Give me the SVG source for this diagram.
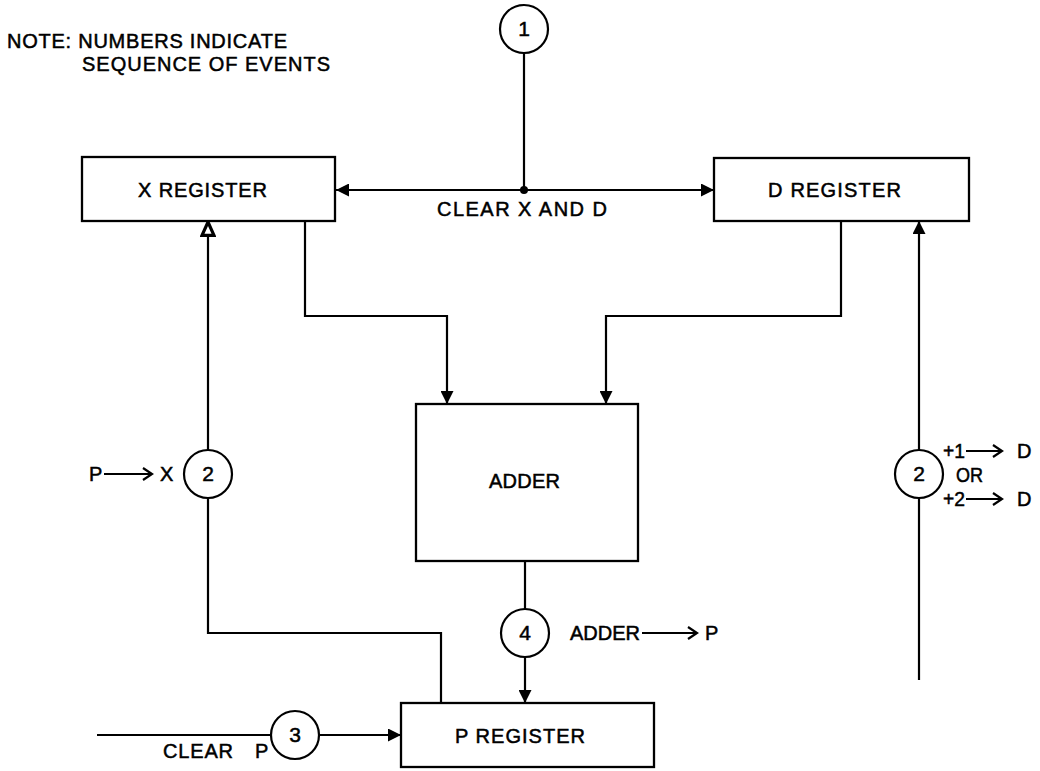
<svg xmlns="http://www.w3.org/2000/svg" width="1040" height="771" viewBox="0 0 1040 771">
<style>
.box{fill:#fff;stroke:#000;stroke-width:2.3}
.ln{fill:none;stroke:#000;stroke-width:2.2}
.cir{fill:#fff;stroke:#000;stroke-width:2.2}
.t{font-family:"Liberation Sans",Arial,sans-serif;font-size:20px;fill:#000;stroke:#000;stroke-width:0.5}
.n{font-family:"Liberation Sans",Arial,sans-serif;font-size:21px;fill:#000;stroke:#000;stroke-width:0.5;text-anchor:middle}
</style>
<defs>
<marker id="ah" viewBox="0 0 10 10" refX="10" refY="5" markerWidth="15" markerHeight="13" markerUnits="userSpaceOnUse" orient="auto">
<path d="M0,0 L10,5 L0,10 z" fill="#000"/>
</marker>
<marker id="ahh" viewBox="-1 -1 12 12" refX="10" refY="5" markerWidth="16" markerHeight="16" markerUnits="userSpaceOnUse" orient="auto">
<path d="M0,0.5 L10,5 L0,9.5 z" fill="#fff" stroke="#000" stroke-width="2.4"/>
</marker>
</defs>
<rect width="1040" height="771" fill="#fff"/>

<g id="note">
<text class="t" x="7" y="48" textLength="280" lengthAdjust="spacing">NOTE: NUMBERS INDICATE</text>
<text class="t" x="82" y="71" textLength="248" lengthAdjust="spacing">SEQUENCE OF EVENTS</text>
</g>

<g id="connectors">
<path class="ln" d="M524,53 V190"/>
<path class="ln" d="M524,190 H336" marker-end="url(#ah)"/>
<path class="ln" d="M524,190 H714" marker-end="url(#ah)"/>
<circle cx="524" cy="190" r="4" fill="#000"/>
<path class="ln" d="M305,221 V316 H447 V404" marker-end="url(#ah)"/>
<path class="ln" d="M841,221 V316 H606 V404" marker-end="url(#ah)"/>
<path class="ln" d="M525,561 V609"/>
<path class="ln" d="M525,657 V703" marker-end="url(#ah)"/>
<path class="ln" d="M441,703 V633 H208 V498"/>
<path class="ln" d="M208,450 V222" marker-end="url(#ahh)"/>
<path class="ln" d="M97,735 H271"/>
<path class="ln" d="M319,735 H401" marker-end="url(#ah)"/>
<path class="ln" d="M919,680 V498"/>
<path class="ln" d="M919,450 V221" marker-end="url(#ah)"/>
</g>

<g id="x-register">
<rect class="box" x="82" y="157" width="253" height="64"/>
<text class="t" x="138" y="197" textLength="129" lengthAdjust="spacing">X  REGISTER</text>
</g>
<g id="d-register">
<rect class="box" x="714" y="158" width="255" height="63"/>
<text class="t" x="768" y="197" textLength="133" lengthAdjust="spacing">D  REGISTER</text>
</g>
<g id="clear-xd-label">
<text class="t" x="437" y="216" textLength="170" lengthAdjust="spacing">CLEAR X AND D</text>
</g>
<g id="adder">
<rect class="box" x="416" y="404" width="222" height="157"/>
<text class="t" x="489" y="488" textLength="71" lengthAdjust="spacing">ADDER</text>
</g>
<g id="p-register">
<rect class="box" x="401" y="703" width="253" height="64"/>
<text class="t" x="455" y="743" textLength="130" lengthAdjust="spacing">P  REGISTER</text>
</g>

<g id="step1">
<circle class="cir" cx="524" cy="29" r="24"/>
<text class="n" x="524" y="36">1</text>
</g>
<g id="step2-left">
<circle class="cir" cx="208" cy="474" r="24"/>
<text class="n" x="208" y="481">2</text>
<text class="t" x="89" y="481">P</text>
<path class="ln" d="M104,474 H151 M143,468 L152,474 L143,480"/>
<text class="t" x="160" y="481">X</text>
</g>
<g id="step2-right">
<circle class="cir" cx="919" cy="474" r="24"/>
<text class="n" x="919" y="481">2</text>
<text class="t" x="943" y="458" textLength="22" lengthAdjust="spacingAndGlyphs">+1</text>
<path class="ln" d="M966,451 H1001 M993,445 L1002,451 L993,457"/>
<text class="t" x="1017" y="458">D</text>
<text class="t" x="956" y="482" textLength="27" lengthAdjust="spacingAndGlyphs">OR</text>
<text class="t" x="943" y="506" textLength="22" lengthAdjust="spacingAndGlyphs">+2</text>
<path class="ln" d="M966,499 H1001 M993,493 L1002,499 L993,505"/>
<text class="t" x="1017" y="506">D</text>
</g>
<g id="step3">
<circle class="cir" cx="295" cy="735" r="24"/>
<text class="n" x="295" y="742">3</text>
<text class="t" y="758"><tspan x="163" textLength="70" lengthAdjust="spacing">CLEAR</tspan><tspan x="255">P</tspan></text>
</g>
<g id="step4">
<circle class="cir" cx="525" cy="633" r="24"/>
<text class="n" x="525" y="640">4</text>
<text class="t" x="570" y="640" textLength="70" lengthAdjust="spacing">ADDER</text>
<path class="ln" d="M642,633 H696 M688,627 L697,633 L688,639"/>
<text class="t" x="705" y="640">P</text>
</g>
</svg>
